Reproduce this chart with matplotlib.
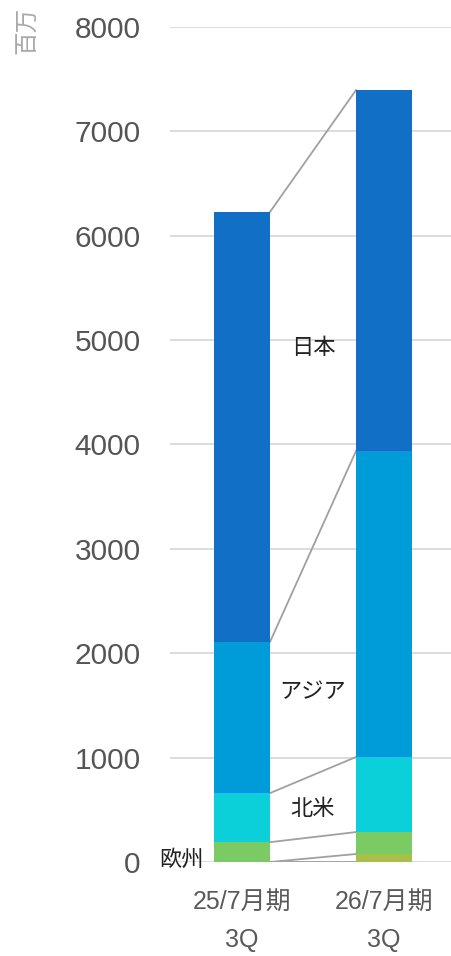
import matplotlib.pyplot as plt

plt.rcParams['font.family'] = ['Liberation Sans', 'Noto Sans CJK JP', 'DejaVu Sans']

# data (百万)
periods = ["25/7月期\n3Q", "26/7月期\n3Q"]
regions = ["その他", "欧州", "北米", "アジア", "日本"]
other = [0, 77]
europe = [190, 210]
north_america = [470, 719]
asia = [1447, 2931]
japan = [4120, 3458]
yticks = [0, 1000, 2000, 3000, 4000, 5000, 6000, 7000, 8000]

series = [other, europe, north_america, asia, japan]
colors = ["#a8c04a", "#7acb63", "#0bd0d9", "#009cd9", "#1170c6"]

fig = plt.figure(figsize=(4.52, 9.56), dpi=100)
ax = fig.add_axes([0.376, 0.0983, 0.624, 0.8735])

x = [0, 1]
width = 0.394
bottoms = [0, 0]
tops = []
for vals, col in zip(series, colors):
    ax.bar(x, vals, width, bottom=bottoms, color=col, zorder=3)
    bottoms = [b + v for b, v in zip(bottoms, vals)]
    tops.append(list(bottoms))

# connector lines between the bars
ax.plot([x[0] + width / 2, x[1] - width / 2], [0, 0], color="#a0a0a0", lw=1.3, zorder=2)
for t in tops:
    ax.plot([x[0] + width / 2, x[1] - width / 2], t, color="#a0a0a0", lw=1.3, zorder=2)

# region labels
ax.text(0.5, 4920, "日本", ha="center", va="center", fontsize=16, color="#222222")
ax.text(0.5, 1620, "アジア", ha="center", va="center", fontsize=16, color="#222222")
ax.text(0.5, 500, "北米", ha="center", va="center", fontsize=16, color="#222222")
ax.text(-0.27, 20, "欧州", ha="right", va="center", fontsize=16, color="#222222")

ax.set_xlim(-0.507, 1.479)
ax.set_ylim(0, 8000)
ax.set_yticks(yticks)
ax.set_yticklabels([str(v) for v in yticks], fontsize=21.5, color="#555555")
ax.set_xticks(x)
ax.set_xticklabels(periods, fontsize=18, color="#595959", linespacing=1.75)
ax.tick_params(axis="y", length=0, pad=21)
ax.tick_params(axis="x", length=0, pad=20)
ax.grid(axis="y", color="#d9d9d9", lw=1.3, zorder=0)
for s in ax.spines.values():
    s.set_visible(False)

fig.text(0.062, 0.993, "百万", rotation=90, ha="center", va="top", fontsize=17, color="#aaaaaa")

fig.savefig("out.png", dpi=100)
